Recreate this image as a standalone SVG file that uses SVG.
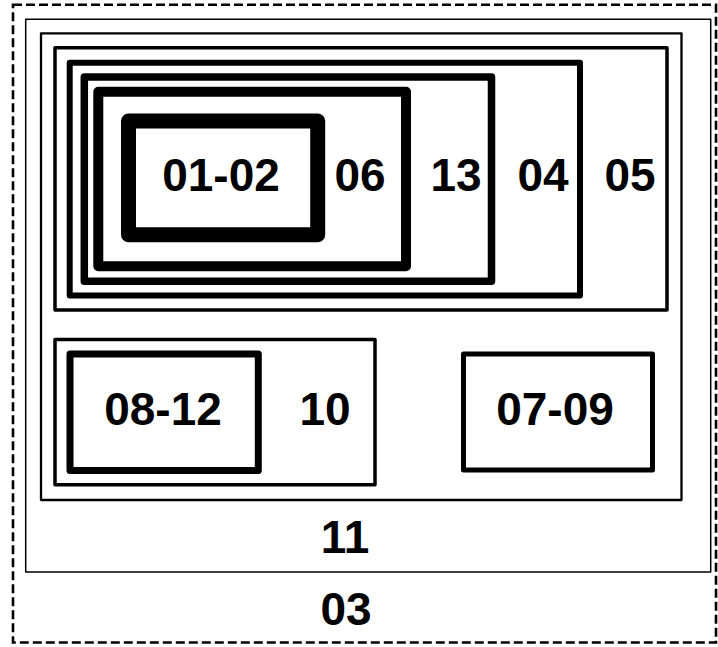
<svg xmlns="http://www.w3.org/2000/svg" width="718" height="647" viewBox="0 0 718 647">
  <style>
    rect { fill: none; stroke: #000; stroke-linejoin: round; }
    text { font-family: "Liberation Sans", Arial, Helvetica, sans-serif; font-weight: bold; font-size: 46px; fill: #000; text-anchor: middle; }
    .dashed { stroke-width: 2.6; stroke-dasharray: 9 4; stroke-linejoin: miter; }
  </style>
  <rect x="0" y="0" width="718" height="647" fill="#fff" style="fill:#fff;stroke:none"/>
  <g id="n03">
    <rect class="dashed" x="13" y="4.7" width="703" height="637.8"/>
    <text x="346" y="625">03</text>
  </g>
  <g id="n11">
    <rect x="25.7" y="19.3" width="685" height="552.7" stroke-width="1.5"/>
    <text x="345" y="553">11</text>
  </g>
  <g id="group-inner">
    <rect x="41" y="33.3" width="640.5" height="466.7" stroke-width="2.3"/>
  </g>
  <g id="n05">
    <rect x="55" y="47.8" width="612" height="262.2" stroke-width="3.5"/>
    <text x="630" y="191">05</text>
  </g>
  <g id="n04">
    <rect x="69.7" y="62.7" width="510.3" height="232.8" stroke-width="6"/>
    <text x="543" y="191">04</text>
  </g>
  <g id="n13">
    <rect x="84.3" y="77" width="407.2" height="204.2" stroke-width="7.5"/>
    <text x="456" y="191">13</text>
  </g>
  <g id="n06">
    <rect x="98.3" y="91.7" width="307.7" height="174.6" stroke-width="10"/>
    <text x="360" y="191">06</text>
  </g>
  <g id="n01-02">
    <rect x="128.5" y="121" width="189.2" height="113.7" stroke-width="15"/>
    <text x="221" y="191">01-02</text>
  </g>
  <g id="n10">
    <rect x="55" y="339.5" width="320" height="145.2" stroke-width="3.5"/>
    <text x="325" y="425">10</text>
  </g>
  <g id="n08-12">
    <rect x="70" y="354" width="188.3" height="116.5" stroke-width="7"/>
    <text x="163" y="425">08-12</text>
  </g>
  <g id="n07-09">
    <rect x="463.5" y="354" width="189" height="116" stroke-width="5"/>
    <text x="555" y="425">07-09</text>
  </g>
  <g id="connectors"></g>
</svg>
